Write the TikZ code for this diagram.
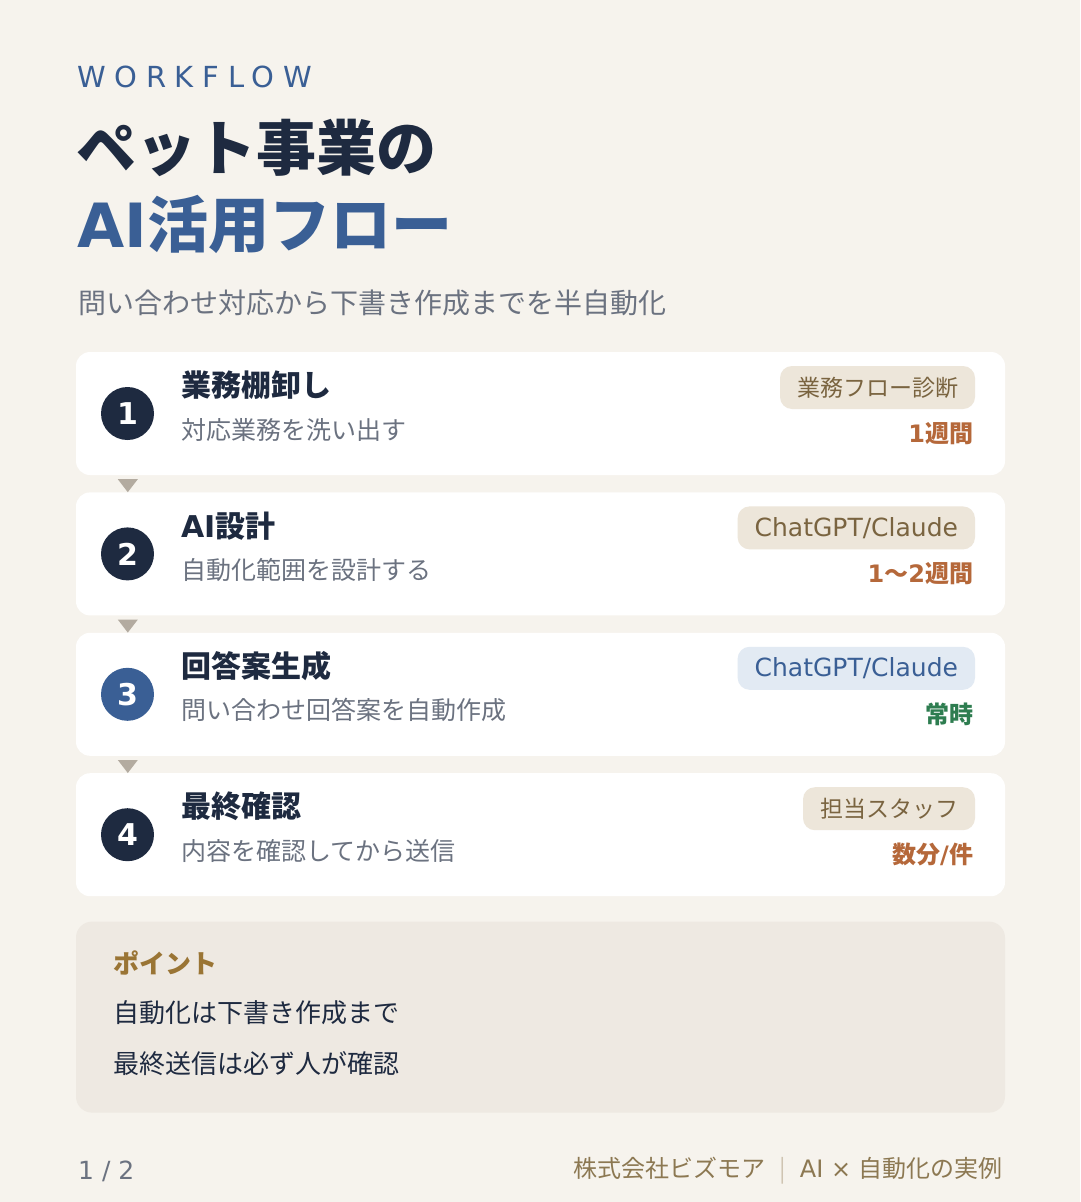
\documentclass[tikz,border=0pt]{standalone}
\usepackage{fontspec}
\setmainfont{Noto Sans CJK JP}
\newfontfamily\dv{DejaVu Sans}
\newfontfamily\spaced{DejaVu Sans}[LetterSpace=30]
\usetikzlibrary{positioning,calc}
\definecolor{paper}{HTML}{F6F3ED}
\definecolor{ink}{HTML}{1E2A40}
\definecolor{navy}{HTML}{3A5F95}
\definecolor{muted}{HTML}{6B7280}
\definecolor{tagbg}{HTML}{EDE6DA}
\definecolor{tagfg}{HTML}{7A6440}
\definecolor{bluebg}{HTML}{E2EAF3}
\definecolor{rust}{HTML}{B5683A}
\definecolor{leaf}{HTML}{2E7D50}
\definecolor{notebg}{HTML}{EEE9E2}
\definecolor{gold}{HTML}{9A7535}
\definecolor{footfg}{HTML}{8C7852}
\definecolor{footsep}{HTML}{CFC4B2}
\definecolor{marker}{HTML}{B3ABA0}
\newcommand{\fs}[1]{\fontsize{#1pt}{#1pt}\selectfont}
\newcommand{\en}[1]{{\dv #1}}
\tikzset{
    flow/.style={x=1pt,y=-1pt,inner sep=0pt,node distance=17pt},
    card/.style={fill=white,rounded corners=14pt,minimum width=929pt,minimum height=123pt},
    num/.style={circle,fill=ink,minimum size=53pt,text=white,font=\dv\bfseries\fs{30}},
    steptitle/.style={anchor=west,text=ink,font=\bfseries\fs{30}},
    stepnote/.style={anchor=west,text=muted,font=\fs{25}},
    tag/.style={anchor=east,fill=tagbg,text=tagfg,rounded corners=12pt,minimum height=43pt,inner xsep=17pt,font=\fs{23}},
    entag/.style={tag,font=\dv\fs{25}},
    span/.style={anchor=east,text=rust,font=\bfseries\fs{24}},
    tri/.style={fill=marker},
    }

\begin{document}
\begin{tikzpicture}[flow]
    \fill[paper] (0,0) rectangle (1080,1202);
    \useasboundingbox (0,0) rectangle (1080,1202);

    \node[anchor=west,text=navy,font=\spaced\fs{29}] (kicker) at (77,77) {WORKFLOW};
    \node[anchor=west,text=ink,font=\bfseries\fs{60}] (head1) at (76,148) {ペット事業の};
    \node[anchor=west,text=navy,font=\bfseries\fs{61}] (head2) at (77,224) {\en{AI}活用フロー};
    \node[anchor=west,text=muted,font=\fs{28}] (lead) at (78,303) {問い合わせ対応から下書き作成までを半自動化};

    \node[card] (c1) at (540.5,413.5) {};
    \node[card] (c2) [below=of c1] {};
    \node[card] (c3) [below=of c2] {};
    \node[card] (c4) [below=of c3] {};

    \node[num] (n1) [right=25pt of c1.west] {1};
    \node[num] (n2) [right=25pt of c2.west] {2};
    \node[num,fill=navy] (n3) [right=25pt of c3.west] {3};
    \node[num] (n4) [right=25pt of c4.west] {4};

    \node[steptitle] (t1) at ($(c1.west)+(105,-28)$) {業務棚卸し};
    \node[stepnote] (s1) at ($(c1.west)+(105,16)$) {対応業務を洗い出す};
    \node[tag] (b1) at ($(c1.east)+(-30,-26)$) {業務フロー診断};
    \node[span] (d1) at ($(c1.east)+(-32,20)$) {\en{1}週間};

    \node[steptitle] (t2) at ($(c2.west)+(105,-28)$) {\en{AI}設計};
    \node[stepnote] (s2) at ($(c2.west)+(105,16)$) {自動化範囲を設計する};
    \node[entag] (b2) at ($(c2.east)+(-30,-26)$) {ChatGPT/Claude};
    \node[span] (d2) at ($(c2.east)+(-32,20)$) {\en{1}〜\en{2}週間};

    \node[steptitle] (t3) at ($(c3.west)+(105,-28)$) {回答案生成};
    \node[stepnote] (s3) at ($(c3.west)+(105,16)$) {問い合わせ回答案を自動作成};
    \node[entag,fill=bluebg,text=navy] (b3) at ($(c3.east)+(-30,-26)$) {ChatGPT/Claude};
    \node[span,text=leaf] (d3) at ($(c3.east)+(-32,20)$) {常時};

    \node[steptitle] (t4) at ($(c4.west)+(105,-28)$) {最終確認};
    \node[stepnote] (s4) at ($(c4.west)+(105,16)$) {内容を確認してから送信};
    \node[tag] (b4) at ($(c4.east)+(-30,-26)$) {担当スタッフ};
    \node[span] (d4) at ($(c4.east)+(-32,20)$) {数分\en{/}件};

    \fill[tri] ($(c1.south west)+(42,4)$) -- ++(20,0) -- ++(-10,13) -- cycle;
    \fill[tri] ($(c2.south west)+(42,4)$) -- ++(20,0) -- ++(-10,13) -- cycle;
    \fill[tri] ($(c3.south west)+(42,4)$) -- ++(20,0) -- ++(-10,13) -- cycle;

    \node[card,fill=notebg,rounded corners=16pt,minimum height=191pt] (note) [below=25pt of c4] {};
    \node[anchor=west,text=gold,font=\bfseries\fs{26}] (p0) at ($(note.north west)+(37,42)$) {ポイント};
    \node[anchor=west,text=ink,font=\fs{26}] (p1) at ($(note.north west)+(37,91)$) {自動化は下書き作成まで};
    \node[anchor=west,text=ink,font=\fs{26}] (p2) at ($(note.north west)+(37,142)$) {最終送信は必ず人が確認};

    \node[anchor=west,text=muted,font=\dv\fs{25}] (page) at (78,1171) {1 / 2};
    \node[anchor=east,text=footfg,font=\fs{24}] (brand) at (1003,1171) {株式会社ビズモア\hspace{14pt}{\color{footsep}|}\hspace{14pt}\en{AI × }自動化の実例};
\end{tikzpicture}
\end{document}
